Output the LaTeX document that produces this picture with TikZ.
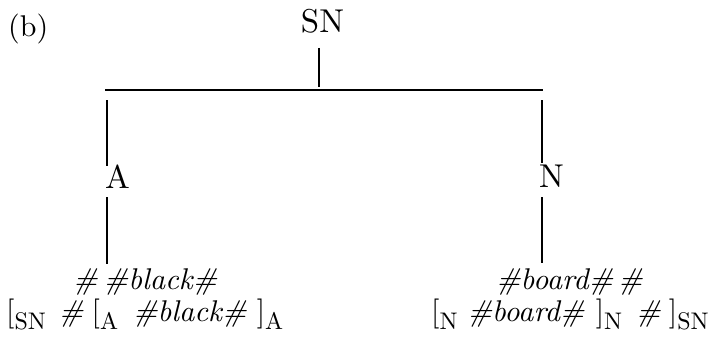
\documentclass[tikz,border=0pt]{standalone}
\usepackage{fontspec}
% the 10pt design size at every size, for its heavier strokes
\setmainfont{lmroman10}[Extension=.otf, UprightFont=*-regular, ItalicFont=*-italic,
  BoldFont=*-bold, BoldItalicFont=*-bolditalic]
% lowered label attached to a bracket
\newcommand{\lsub}[1]{\raisebox{-8pt}{\fontsize{24}{26}\selectfont\upshape #1}}
\begin{document}
\begin{tikzpicture}[x=1pt,y=1pt,
  branch/.style={line width=2.4pt},
  cat/.style={inner sep=0pt,font=\fontsize{33}{36}\selectfont},
  leaf/.style={inner sep=0pt,font=\fontsize{30}{34}\selectfont}]
\useasboundingbox (0,0) rectangle (715,-337);

% label of the sub-figure
\node[inner sep=0pt,anchor=base west,font=\fontsize{30}{34}\selectfont] (tag) at (8,-37) {(b)};

% category nodes
\node[cat,anchor=base] (SN) at (322.5,-33) {SN};
\node[cat,anchor=base west] (A) at (105,-188) {A};
\node[cat,anchor=base west] (N) at (539,-187) {N};

% terminal strings and their bracketings
\node[leaf,anchor=base west] (blk) at (73,-289) {\itshape\#\hspace{6pt}\#black\#};
\node[leaf,anchor=base west] (blkbr) at (6,-321)
  {[\lsub{SN}\hspace{13pt}\textit{\#}\hspace{8pt}[\lsub{A}\hspace{15pt}\textit{\#black\#}\hspace{10pt}]\lsub{A}};
\node[leaf,anchor=base west] (brd) at (496,-289) {\itshape\#board\#\hspace{5pt}\#};
\node[leaf,anchor=base west] (brdbr) at (431,-321)
  {[\lsub{N}\hspace{10pt}\textit{\#board\#}\hspace{11pt}]\lsub{N}\hspace{14pt}\textit{\#}\hspace{8pt}]\lsub{SN}};

% branch points
\coordinate (snTop) at (319,-48);
\coordinate (snBot) at (319,-87);
\coordinate (barL) at (105,-90);
\coordinate (barR) at (543,-90);
\coordinate (aTop) at (107,-100);
\coordinate (aBot) at (107,-166);
\coordinate (aLeafTop) at (107,-197);
\coordinate (aLeafBot) at (107,-264);
\coordinate (nTop) at (542,-100);
\coordinate (nBot) at (542,-163);
\coordinate (nLeafTop) at (542,-197);
\coordinate (nLeafBot) at (542,-263);

% tree lines
\draw[branch] (snTop) -- (snBot);
\draw[branch] (barL) -- (barR);
\draw[branch] (aTop) -- (aBot);
\draw[branch] (aLeafTop) -- (aLeafBot);
\draw[branch] (nTop) -- (nBot);
\draw[branch] (nLeafTop) -- (nLeafBot);
\end{tikzpicture}
\end{document}
